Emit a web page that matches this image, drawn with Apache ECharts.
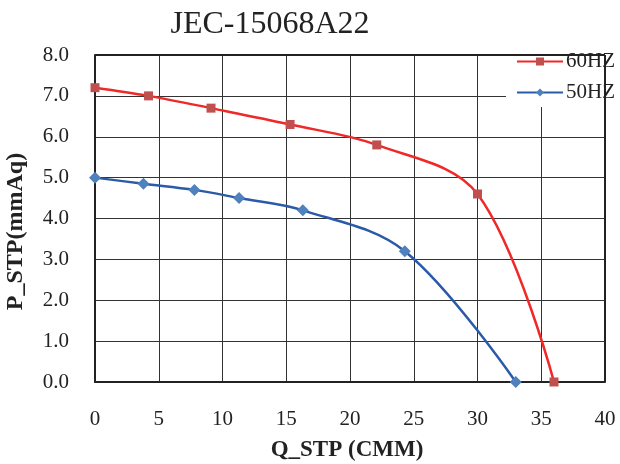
<!DOCTYPE html>
<html>
<head>
<meta charset="utf-8">
<script src="https://cdn.jsdelivr.net/npm/echarts@6/dist/echarts.min.js"></script>
<style>html,body{margin:0;padding:0;background:#fff;}#c{width:620px;height:464px;}</style>
</head>
<body>
<div id="c"></div>
<script>
var title = 'JEC-15068A22';
var xName = 'Q_STP (CMM)';
var yName = 'P_STP(mmAq)';
var series60Name = '60HZ';
var series50Name = '50HZ';
var q60 = [0, 4.2, 9.1, 15.3, 22.1, 30.0, 36.0];
var p60 = [7.2, 7.0, 6.7, 6.3, 5.8, 4.6, 0.0];
var q50 = [0, 3.8, 7.8, 11.3, 16.3, 24.3, 33.0];
var p50 = [5.0, 4.85, 4.7, 4.5, 4.2, 3.2, 0.0];

function pairs(xs, ys) { return xs.map(function (x, i) { return [x, ys[i]]; }); }

var serif = '"Liberation Serif", "DejaVu Serif", serif';
var chart = echarts.init(document.getElementById('c'), null, {renderer: 'canvas'});
chart.setOption({
  animation: false,
  backgroundColor: '#fff',
  title: {
    text: title, left: 265, top: 4, textAlign: 'center',
    textStyle: {fontFamily: serif, fontSize: 32, fontWeight: 'normal', color: '#222'}
  },
  grid: {left: 95, right: 15, top: 55, bottom: 82, containLabel: false, outerBoundsMode: 'none'},
  legend: {
    orient: 'vertical', left: 506, top: 47,
    backgroundColor: '#fff', padding: [4, 4, 4, 10],
    itemWidth: 46, itemHeight: 10, itemGap: 10,
    textStyle: {fontFamily: serif, fontSize: 21, color: '#222', padding: [0, 0, 0, -2]},
    data: [series60Name, series50Name]
  },
  xAxis: {
    type: 'value', min: 0, max: 40, interval: 5,
    name: xName, nameLocation: 'middle', nameGap: 57,
    nameTextStyle: {fontFamily: serif, fontSize: 23, fontWeight: 'bold', color: '#222', padding: [0, 6, 0, 0]},
    axisLine: {show: true, lineStyle: {color: '#222', width: 2}},
    axisTick: {show: false},
    axisLabel: {fontFamily: serif, fontSize: 21, color: '#222', margin: 27},
    splitLine: {show: true, lineStyle: {color: '#333', width: 1}}
  },
  yAxis: {
    type: 'value', min: 0, max: 8, interval: 1,
    name: yName, nameLocation: 'middle', nameGap: 67, nameRotate: 90,
    nameTextStyle: {fontFamily: serif, fontSize: 24, fontWeight: 'bold', color: '#222', padding: [0, 26, 0, 0]},
    axisLine: {show: true, lineStyle: {color: '#222', width: 2}},
    axisTick: {show: false},
    axisLabel: {fontFamily: serif, fontSize: 21, color: '#222', margin: 26,
      formatter: function (v) { return v.toFixed(1); }},
    splitLine: {show: true, lineStyle: {color: '#333', width: 1}}
  },
  series: [
    {
      name: series60Name, type: 'line', smooth: 0.35,
      data: pairs(q60, p60),
      symbol: 'rect', symbolSize: 9,
      lineStyle: {color: '#f02828', width: 2.5},
      itemStyle: {color: '#c0504d'}
    },
    {
      name: series50Name, type: 'line', smooth: 0.35,
      data: pairs(q50, p50),
      symbol: 'diamond', symbolSize: 12,
      lineStyle: {color: '#2a5aa8', width: 2.5},
      itemStyle: {color: '#4f81bd'}
    },
    {
      type: 'line', data: [], silent: true,
      markLine: {
        silent: true, symbol: 'none', label: {show: false},
        lineStyle: {color: '#222', width: 2, type: 'solid'},
        data: [
          [{coord: [0, 8]}, {coord: [40, 8]}],
          [{coord: [40, 0]}, {coord: [40, 8]}]
        ]
      },
      z: 1
    }
  ]
});
</script>
</body>
</html>
